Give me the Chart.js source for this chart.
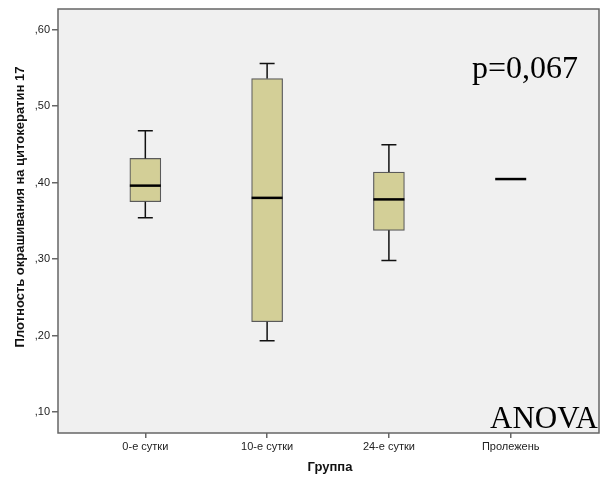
<!DOCTYPE html>
<html>
<head>
<meta charset="utf-8">
<script src="https://cdn.jsdelivr.net/npm/chart.js@4/dist/chart.umd.min.js"></script>
<style>
  html, body { margin: 0; padding: 0; background: #fff; }
  #wrap { width: 603px; height: 479px; }
</style>
</head>
<body>
<div id="wrap"><canvas id="box"></canvas></div>
<script>
// ─── DATA ─────────────────────────────────────────────────────
const groups      = ['0-е сутки', '10-е сутки', '24-е сутки', 'Пролежень'];
const whiskerLow  = [0.354,  0.193,  0.298,  0.4046];
const q1          = [0.375,  0.218,  0.3375, 0.4046];
const median      = [0.396,  0.380,  0.378,  0.4046];
const q3          = [0.4316, 0.536,  0.4137, 0.4046];
const whiskerHigh = [0.4677, 0.5558, 0.4494, 0.4046];
const yTicks      = [0.1, 0.2, 0.3, 0.4, 0.5, 0.6];

const yTitle = 'Плотность окрашивания на цитокератин 17';
const xTitle = 'Группа';

// ─── STYLE ────────────────────────────────────────────────────
const BOX_FILL   = '#d3cf97';
const BOX_EDGE   = '#5a5a5a';
const PLOT_BG    = '#f0f0f0';
const FRAME      = '#666666';
const BOX_W      = 31;
const CAP_W      = 15;

Chart.defaults.font.family = 'Arial, "Liberation Sans", sans-serif';
Chart.defaults.color = '#222';

// whiskers, medians, frame and the text notes
const boxPlugin = {
    id: 'boxExtras',
    beforeDraw(chart) {
        const { ctx, chartArea: a } = chart;
        ctx.save();
        ctx.fillStyle = PLOT_BG;
        ctx.fillRect(a.left, a.top, a.right - a.left, a.bottom - a.top);
        ctx.restore();
    },
    afterDatasetsDraw(chart) {
        const { ctx, scales: { x, y } } = chart;
        ctx.save();
        groups.forEach((g, i) => {
            const cx = x.getPixelForValue(i);
            ctx.strokeStyle = '#111';
            ctx.lineWidth = 1.5;
            // upper whisker
            if (whiskerHigh[i] > q3[i]) {
                const yt = y.getPixelForValue(whiskerHigh[i]);
                const yb = y.getPixelForValue(q3[i]);
                ctx.beginPath();
                ctx.moveTo(cx, yb); ctx.lineTo(cx, yt);
                ctx.moveTo(cx - CAP_W / 2, yt); ctx.lineTo(cx + CAP_W / 2, yt);
                ctx.stroke();
            }
            // lower whisker
            if (whiskerLow[i] < q1[i]) {
                const yt = y.getPixelForValue(q1[i]);
                const yb = y.getPixelForValue(whiskerLow[i]);
                ctx.beginPath();
                ctx.moveTo(cx, yt); ctx.lineTo(cx, yb);
                ctx.moveTo(cx - CAP_W / 2, yb); ctx.lineTo(cx + CAP_W / 2, yb);
                ctx.stroke();
            }
            // median
            const ym = y.getPixelForValue(median[i]);
            ctx.strokeStyle = '#000';
            ctx.lineWidth = 2.5;
            ctx.beginPath();
            ctx.moveTo(cx - BOX_W / 2, ym); ctx.lineTo(cx + BOX_W / 2, ym);
            ctx.stroke();
        });
        ctx.restore();
    },
    afterDraw(chart) {
        const { ctx, chartArea: a } = chart;
        ctx.save();
        // notes inside the plot
        ctx.fillStyle = '#000';
        ctx.textBaseline = 'alphabetic';
        ctx.textAlign = 'left';
        ctx.font = '32px "Liberation Serif", "Times New Roman", serif';
        ctx.fillText('p=0,067', 472, 78);
        ctx.font = '31px "Liberation Serif", "Times New Roman", serif';
        ctx.fillText('ANOVA', 490, 428);

        // frame
        ctx.strokeStyle = FRAME;
        ctx.lineWidth = 1.5;
        ctx.strokeRect(a.left, a.top, a.right - a.left, a.bottom - a.top);

        // axis titles
        ctx.fillStyle = '#111';
        ctx.font = 'bold 13px Arial, "Liberation Sans", sans-serif';
        ctx.textAlign = 'center';
        ctx.textBaseline = 'middle';
        ctx.fillText(xTitle, 330, 467);
        ctx.translate(20, 207);
        ctx.rotate(-Math.PI / 2);
        ctx.fillText(yTitle, 0, 0);
        ctx.restore();
    }
};

new Chart(document.getElementById('box'), {
    type: 'bar',
    data: {
        datasets: [{
            data: groups.map((g, i) => ({ x: i, y: [q1[i], q3[i]] })),
            backgroundColor: groups.map((g, i) => q3[i] > q1[i] ? BOX_FILL : 'rgba(0,0,0,0)'),
            borderColor: groups.map((g, i) => q3[i] > q1[i] ? BOX_EDGE : 'rgba(0,0,0,0)'),
            borderWidth: 1.2,
            borderSkipped: false,
            barThickness: BOX_W
        }]
    },
    options: {
        responsive: true,
        maintainAspectRatio: false,
        animation: false,
        layout: { padding: { top: 9, right: 4, left: 0, bottom: 0 } },
        plugins: { legend: { display: false }, tooltip: { enabled: false } },
        scales: {
            x: {
                type: 'linear',
                min: -0.717,
                max: 3.725,
                offset: false,
                afterFit: s => { s.height = 46; },
                afterBuildTicks: s => { s.ticks = groups.map((g, i) => ({ value: i })); },
                grid: { display: true, drawOnChartArea: false, offset: false, tickLength: 5, tickColor: FRAME, lineWidth: 1.5 },
                border: { display: false },
                ticks: {
                    autoSkip: false,
                    maxRotation: 0,
                    padding: 2,
                    font: { size: 11 },
                    callback: v => groups[v]
                }
            },
            y: {
                min: 0.0725,
                max: 0.627,
                afterFit: s => { s.width = 58; },
                afterBuildTicks: s => { s.ticks = yTicks.map(v => ({ value: v })); },
                grid: { display: true, drawOnChartArea: false, tickLength: 6, tickColor: FRAME, lineWidth: 1.5 },
                border: { display: false },
                ticks: {
                    padding: 2,
                    font: { size: 11 },
                    callback: v => v.toFixed(2).replace('0.', ',')
                }
            }
        }
    },
    plugins: [boxPlugin]
});
</script>
</body>
</html>
